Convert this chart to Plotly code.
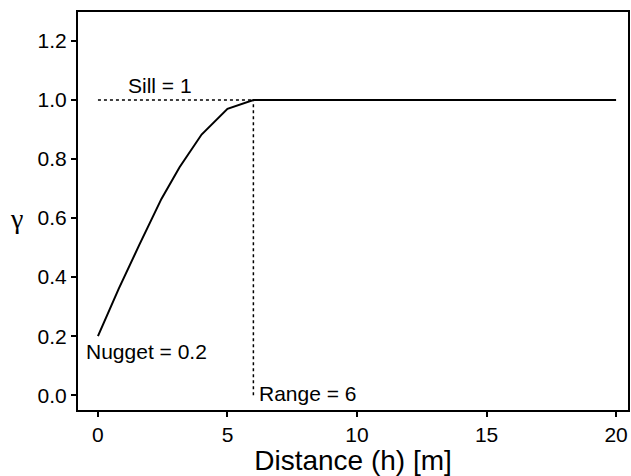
import plotly.graph_objects as go

distance = [0, 0.8, 1.6, 2.45, 3.15, 4.0, 5.0, 6.0, 20]
gamma = [0.2, 0.36, 0.51, 0.665, 0.772, 0.883, 0.97, 1.0, 1.0]
nugget = 0.2
sill = 1.0
rng = 6
x_ticks = [0, 5, 10, 15, 20]
y_ticks = [0.0, 0.2, 0.4, 0.6, 0.8, 1.0, 1.2]

FONT = "Liberation Sans, Arial, sans-serif"

fig = go.Figure()
fig.add_trace(go.Scatter(x=[0, rng], y=[sill, sill], mode="lines",
                         line=dict(color="black", width=1.5, dash="dot"), hoverinfo="skip"))
fig.add_trace(go.Scatter(x=[rng, rng], y=[0, sill], mode="lines",
                         line=dict(color="black", width=1.5, dash="dot"), hoverinfo="skip"))
fig.add_trace(go.Scatter(x=distance, y=gamma, mode="lines",
                         line=dict(color="black", width=2)))

fig.add_annotation(x=2.4, y=1.05, text="Sill = 1", showarrow=False,
                   font=dict(size=21, color="black", family=FONT))
fig.add_annotation(x=-0.55, y=0.148, text="Nugget = 0.2", showarrow=False, xanchor="left",
                   font=dict(size=21, color="black", family=FONT))
fig.add_annotation(x=6.12, y=0.007, text="Range = 6", showarrow=False, xanchor="left",
                   font=dict(size=21, color="black", family=FONT))
fig.add_annotation(x=-0.111, xref="paper", xanchor="center", y=0.6, text="γ", showarrow=False,
                   font=dict(size=28, color="black", family="Liberation Serif, Times New Roman, serif"))

axis_common = dict(showgrid=False, zeroline=False, showline=True, linecolor="black",
                   linewidth=2, mirror=True, ticks="outside", ticklen=5, tickwidth=1.5,
                   tickcolor="black", tickfont=dict(size=21, color="black", family=FONT))

fig.update_layout(
    width=631, height=476, showlegend=False,
    plot_bgcolor="white", paper_bgcolor="white",
    margin=dict(l=78, r=1, t=12, b=66),
    xaxis=dict(range=[-0.77, 20.46], tickvals=x_ticks, ticktext=[str(v) for v in x_ticks],
               title=dict(text="Distance (h) [m]", font=dict(size=28, color="black", family=FONT), standoff=4),
               **axis_common),
    yaxis=dict(range=[-0.05, 1.298], tickvals=y_ticks, ticktext=[f"{v:.1f}" for v in y_ticks],
               **axis_common),
)

fig.write_html("out.html")
